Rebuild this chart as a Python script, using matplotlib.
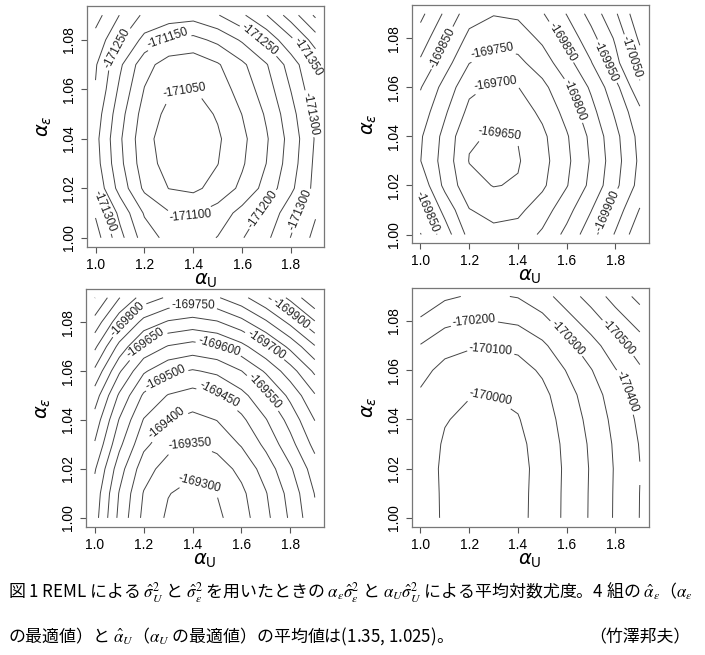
import numpy as np
import matplotlib
matplotlib.use("Agg")
import matplotlib.pyplot as plt

plt.rcParams["font.family"] = ["Liberation Sans", "DejaVu Sans"]
plt.rcParams["axes.unicode_minus"] = False

# grid of the two parameters
alpha_u = [1.0, 1.1, 1.2, 1.3, 1.4, 1.5, 1.6, 1.7, 1.8, 1.9]
alpha_e = [1.00, 1.01, 1.02, 1.03, 1.04, 1.05, 1.06, 1.07, 1.08, 1.09]

# mean log-likelihood, rows = alpha_e, columns = alpha_u
loglik_1 = [
    [-171374, -171266, -171175, -171134, -171125, -171152, -171197, -171240, -171302, -171365],
    [-171344, -171236, -171145, -171104, -171095, -171122, -171167, -171215, -171280, -171345],
    [-171289, -171181, -171090, -171049, -171040, -171067, -171112, -171169, -171240, -171315],
    [-171271, -171163, -171072, -171031, -171022, -171049, -171094, -171151, -171226, -171311],
    [-171265, -171157, -171066, -171025, -171016, -171043, -171088, -171145, -171220, -171305],
    [-171277, -171169, -171078, -171037, -171028, -171055, -171101, -171157, -171232, -171317],
    [-171297, -171189, -171098, -171057, -171048, -171075, -171120, -171177, -171252, -171337],
    [-171305, -171209, -171118, -171077, -171068, -171095, -171140, -171197, -171272, -171357],
    [-171332, -171255, -171185, -171144, -171135, -171162, -171207, -171264, -171339, -171424],
    [-171370, -171298, -171240, -171229, -171220, -171247, -171292, -171349, -171424, -171509],
]
loglik_2 = [
    [-169902, -169825, -169734, -169715, -169721, -169758, -169814, -169880, -169955, -170035],
    [-169870, -169785, -169702, -169683, -169689, -169726, -169782, -169848, -169923, -170003],
    [-169835, -169737, -169667, -169648, -169654, -169691, -169747, -169813, -169888, -169968],
    [-169801, -169729, -169648, -169640, -169646, -169683, -169739, -169805, -169880, -169960],
    [-169806, -169735, -169655, -169646, -169652, -169689, -169745, -169811, -169886, -169966],
    [-169828, -169757, -169687, -169668, -169674, -169711, -169767, -169833, -169908, -169988],
    [-169853, -169782, -169712, -169693, -169699, -169736, -169792, -169858, -169933, -170040],
    [-169892, -169821, -169751, -169732, -169738, -169775, -169831, -169897, -169985, -170075],
    [-169927, -169856, -169786, -169767, -169773, -169810, -169866, -169932, -170007, -170110],
    [-169963, -169892, -169822, -169803, -169809, -169846, -169902, -169968, -170043, -170140],
]
loglik_3 = [
    [-169570, -169437, -169337, -169292, -169275, -169290, -169329, -169387, -169458, -169540],
    [-169580, -169447, -169347, -169302, -169285, -169301, -169339, -169397, -169468, -169552],
    [-169605, -169472, -169372, -169327, -169310, -169325, -169364, -169422, -169493, -169575],
    [-169645, -169512, -169412, -169367, -169348, -169365, -169404, -169462, -169533, -169615],
    [-169680, -169547, -169447, -169402, -169385, -169401, -169439, -169497, -169568, -169651],
    [-169725, -169592, -169492, -169447, -169430, -169445, -169484, -169542, -169613, -169695],
    [-169790, -169657, -169557, -169512, -169495, -169510, -169549, -169607, -169678, -169760],
    [-169860, -169734, -169639, -169596, -169580, -169595, -169634, -169692, -169763, -169845],
    [-169931, -169818, -169733, -169694, -169680, -169695, -169734, -169792, -169863, -169945],
    [-170001, -169902, -169827, -169793, -169780, -169795, -169834, -169892, -169963, -170045],
]
loglik_4 = [
    [-170047, -169987, -169964, -169962, -169977, -170032, -170122, -170212, -170312, -170402],
    [-170046, -169986, -169963, -169961, -169976, -170031, -170121, -170211, -170311, -170401],
    [-170044, -169984, -169961, -169959, -169974, -170029, -170119, -170209, -170309, -170398],
    [-170050, -169990, -169967, -169965, -169980, -170035, -170125, -170215, -170315, -170405],
    [-170065, -170005, -169982, -169980, -169995, -170050, -170140, -170230, -170330, -170420],
    [-170087, -170027, -170004, -170002, -170017, -170072, -170162, -170252, -170352, -170442],
    [-170130, -170070, -170047, -170045, -170060, -170115, -170205, -170295, -170395, -170485],
    [-170195, -170135, -170112, -170110, -170125, -170180, -170270, -170360, -170460, -170550],
    [-170285, -170225, -170201, -170201, -170215, -170270, -170360, -170450, -170550, -170640],
    [-170375, -170315, -170292, -170290, -170305, -170360, -170450, -170540, -170640, -170730],
]

levels_1 = np.arange(-171500, -171000, 50)
levels_2 = np.arange(-170150, -169600, 50)
levels_3 = np.arange(-170050, -169250, 50)
levels_4 = np.arange(-170800, -169900, 100)

# where R put the contour labels (approximate)
label_pos_1 = [(1.30, 1.080), (1.38, 1.056), (1.39, 1.009), (1.08, 1.077), (1.04, 1.011),
               (1.67, 1.080), (1.85, 1.072), (1.87, 1.050), (1.70, 1.010), (1.84, 1.011)]
label_pos_2 = [(1.30, 1.074), (1.31, 1.062), (1.32, 1.040), (1.07, 1.077), (1.045, 1.010),
               (1.57, 1.078), (1.75, 1.070), (1.855, 1.072), (1.64, 1.055), (1.765, 1.010)]
label_pos_3 = [(1.13, 1.082), (1.40, 1.085), (1.21, 1.071), (1.50, 1.068), (1.30, 1.056),
               (1.49, 1.047), (1.29, 1.039), (1.39, 1.030), (1.42, 1.013), (1.79, 1.082),
               (1.70, 1.071), (1.68, 1.050)]
label_pos_4 = [(1.22, 1.080), (1.29, 1.066), (1.29, 1.046), (1.59, 1.072), (1.80, 1.072),
               (1.82, 1.050)]

panels = [
    (loglik_1, levels_1, label_pos_1, [0.123, 0.6234, 0.337, 0.367]),
    (loglik_2, levels_2, label_pos_2, [0.584, 0.6285, 0.336, 0.364]),
    (loglik_3, levels_3, label_pos_3, [0.122, 0.1959, 0.337, 0.363]),
    (loglik_4, levels_4, label_pos_4, [0.584, 0.1959, 0.336, 0.365]),
]

fig = plt.figure(figsize=(7.05, 6.55), dpi=100)

for z, levels, lab_pos, rect in panels:
    ax = fig.add_axes(rect)
    cs = ax.contour(alpha_u, alpha_e, np.array(z), levels=levels,
                    colors="#444444", linewidths=0.7, linestyles="solid")
    labels = ax.clabel(cs, manual=lab_pos, inline=True, fmt="%d",
                       fontsize=8.6, colors="#222222", inline_spacing=4)
    for t in labels:
        t.set_family("Liberation Sans")

    ax.set_xlim(0.964, 1.936)
    ax.set_ylim(0.9964, 1.0936)
    ax.set_xticks([1.0, 1.2, 1.4, 1.6, 1.8])
    ax.set_xticklabels(["1.0", "1.2", "1.4", "1.6", "1.8"])
    ax.set_yticks([1.00, 1.02, 1.04, 1.06, 1.08])
    ax.set_yticklabels(["1.00", "1.02", "1.04", "1.06", "1.08"], rotation=90, va="center")
    ax.tick_params(direction="out", length=4, width=0.8, color="#555555",
                   labelsize=10, pad=4)
    for sp in ax.spines.values():
        sp.set_color("#777777")
        sp.set_linewidth(0.9)

    ax.text(0.5, -0.142, r"$\alpha_{\mathrm{U}}$", transform=ax.transAxes,
            ha="center", va="center", fontsize=14, math_fontfamily="dejavusans")
    ax.text(-0.178, 0.5, r"$\alpha_{\varepsilon}$", transform=ax.transAxes,
            ha="center", va="center", rotation=90, fontsize=14,
            math_fontfamily="dejavusans")

caption_1 = (r"図 1 REML による $\hat{\sigma}_U^2$ と $\hat{\sigma}_\varepsilon^2$ を用いたときの "
             r"$\alpha_\varepsilon\hat{\sigma}_\varepsilon^2$ と $\alpha_U\hat{\sigma}_U^2$ "
             r"による平均対数尤度。4 組の $\hat{\alpha}_\varepsilon$（$\alpha_\varepsilon$")
caption_2 = r"の最適値）と $\hat{\alpha}_U$（$\alpha_U$ の最適値）の平均値は(1.35, 1.025)。"
author = "（竹澤邦夫）"

fig.text(0.011, 0.095, caption_1, ha="left", va="center", fontsize=12.2,
         fontfamily="Noto Sans CJK JP", math_fontfamily="stix")
fig.text(0.011, 0.027, caption_2, ha="left", va="center", fontsize=12.2,
         fontfamily="Noto Sans CJK JP", math_fontfamily="stix")
fig.text(0.979, 0.027, author, ha="right", va="center", fontsize=12.2,
         fontfamily="Noto Sans CJK JP")

fig.savefig("out.png", dpi=100)
